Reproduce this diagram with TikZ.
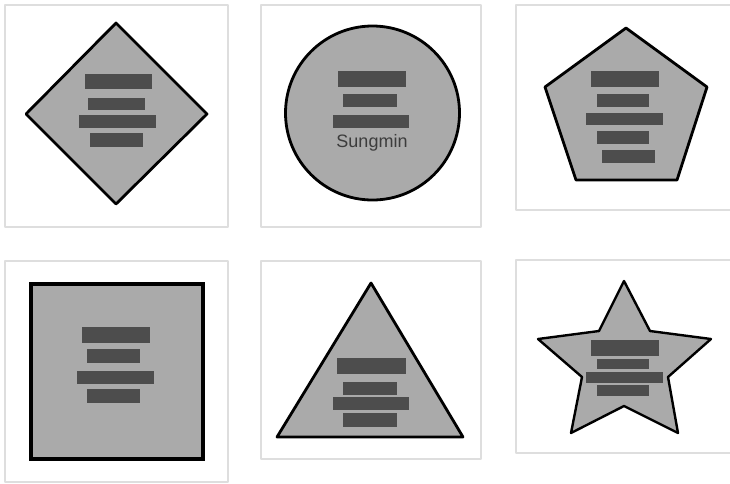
\documentclass[tikz,border=0pt]{standalone}
\usepackage{fontspec}
\setmainfont{Liberation Sans}
\definecolor{framegray}{RGB}{222,222,222}
\definecolor{fillgray}{RGB}{170,170,170}
\definecolor{bargray}{RGB}{77,77,77}
\definecolor{textgray}{RGB}{60,60,60}
\begin{document}
\begin{tikzpicture}[x=1pt, y=-1pt, line join=round, line cap=round,
		panel/.style={draw=framegray, line width=1.2pt},
		figure/.style={draw=black, fill=fillgray, line width=2.8pt},
		bar/.style={fill=bargray}]
			\useasboundingbox (0,0) rectangle (730,483);
			% frames
			\draw[panel] (5,5) rectangle (228,227);
			\draw[panel] (261,5) rectangle (481,227);
			\draw[panel] (730,5) -- (516,5) -- (516,210) -- (730,210);
			\draw[panel] (5,261) rectangle (228,482);
			\draw[panel] (261,261) rectangle (481,459);
			\draw[panel] (730,260) -- (516,260) -- (516,453) -- (730,453);
			% diamond
			\draw[figure] (116,23) -- (207,114) -- (116,204) -- (26,114) -- cycle;
			\fill[bar] (85,74) rectangle (152,89);
			\fill[bar] (88,98) rectangle (145,110);
			\fill[bar] (79,115) rectangle (156,128);
			\fill[bar] (90,133) rectangle (143,147);
			% circle
			\draw[figure] (372.5,113) circle (87);
			\fill[bar] (338,71) rectangle (406,87);
			\fill[bar] (343,94) rectangle (397,107);
			\fill[bar] (333,115) rectangle (409,128);
			\node[text=textgray, font=\fontsize{18}{20}\selectfont] (sungmin) at (372,143) {Sungmin};
			% pentagon
			\draw[figure] (626,28) -- (707,87) -- (677,180) -- (576,180) -- (545,87) -- cycle;
			\fill[bar] (591,71) rectangle (659,87);
			\fill[bar] (597,94) rectangle (649,107);
			\fill[bar] (586,113) rectangle (663,125);
			\fill[bar] (597,131) rectangle (649,144);
			\fill[bar] (602,150) rectangle (655,163);
			% square
			\draw[figure, line width=3.4pt, line join=miter] (31,284) rectangle (203,459);
			\fill[bar] (82,327) rectangle (150,343);
			\fill[bar] (87,349) rectangle (140,363);
			\fill[bar] (77,371) rectangle (154,384);
			\fill[bar] (87,389) rectangle (140,403);
			% triangle
			\draw[figure] (371,283) -- (463,437) -- (277,437) -- cycle;
			\fill[bar] (337,358) rectangle (406,374);
			\fill[bar] (343,382) rectangle (397,395);
			\fill[bar] (333,397) rectangle (409,410);
			\fill[bar] (343,413) rectangle (397,427);
			% star
			\draw[figure, line width=2.4pt] (624,281) -- (650,331) -- (711,339) -- (668,377) -- (678,433)
				-- (624,406) -- (571,433) -- (582,377) -- (538,339) -- (599,331) -- cycle;
			\fill[bar] (591,340) rectangle (659,356);
			\fill[bar] (597,359) rectangle (649,369);
			\fill[bar] (586,372) rectangle (663,383);
			\fill[bar] (597,385) rectangle (649,396);
		\end{tikzpicture}
\end{document}
